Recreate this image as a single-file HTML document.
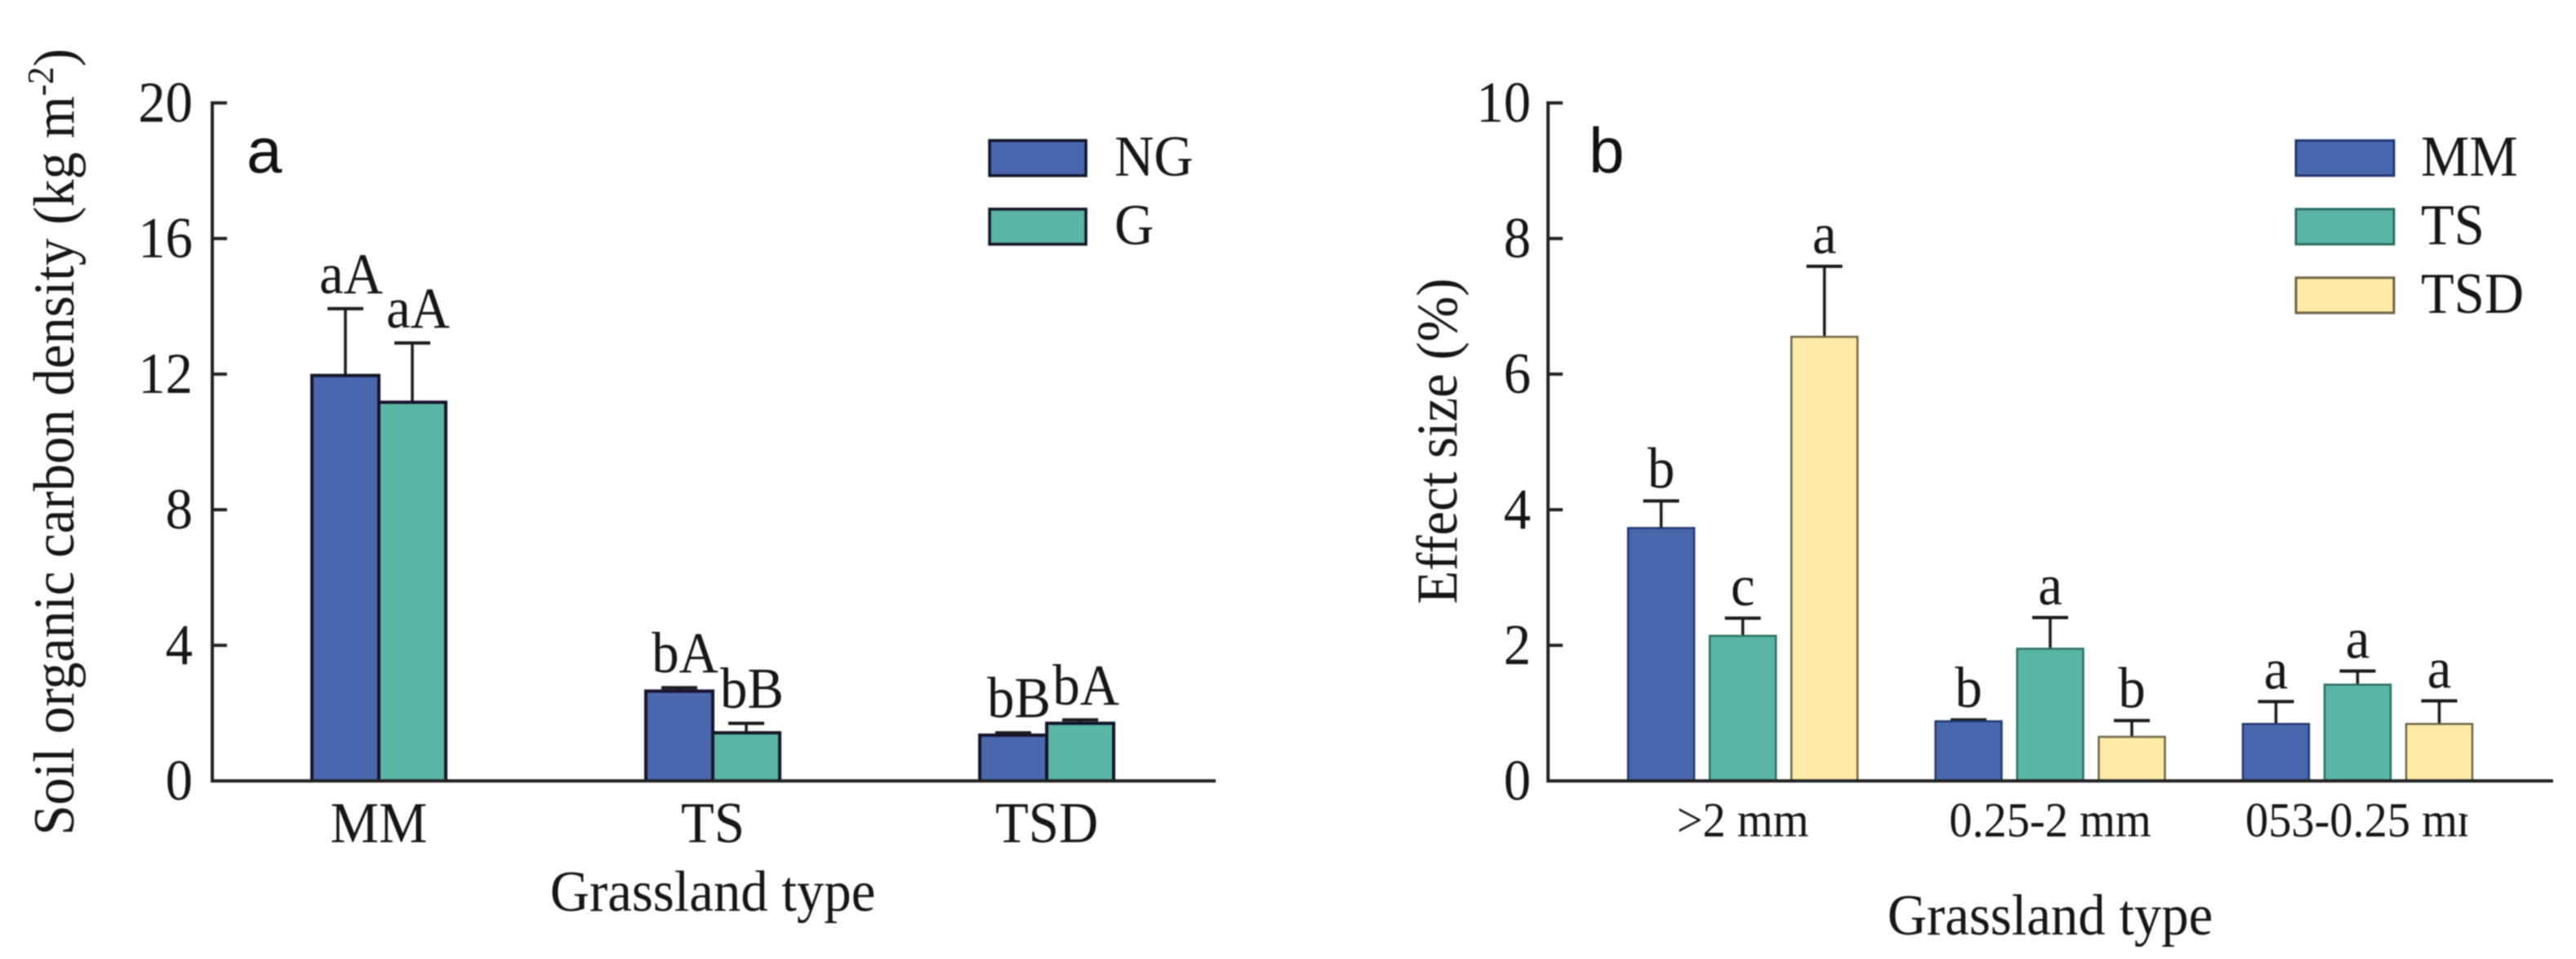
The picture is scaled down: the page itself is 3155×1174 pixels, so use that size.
<!DOCTYPE html>
<html lang="en">
<head>
<meta charset="utf-8">
<title>Soil organic carbon density and effect size by grassland type</title>
<style>
  html, body { margin: 0; padding: 0; background: #fff; }
  #figure { display: block; width: 3155px; height: 1174px; filter: blur(0.9px); }
  text { font-family: "Liberation Serif", serif; fill: #161616; font-size: 71px; }
  .panel-letter { font-family: "Liberation Sans", sans-serif; font-size: 78px; fill: #111; }
  .tick-b { font-size: 60px; }
  .axis { stroke: #222; stroke-width: 4; fill: none; }
</style>
</head>
<body>
<svg id="figure" xmlns="http://www.w3.org/2000/svg" width="3155" height="1174" viewBox="0 0 3155 1174">
  <defs>
    <clipPath id="tick-clip"><rect x="1900" y="960" width="1122" height="100"></rect></clipPath>
  </defs>
  <rect x="0" y="0" width="3155" height="1174" fill="#fff"></rect>

  <g id="panel-a">
    <text transform="translate(90 541) rotate(-90) scale(0.94 1)" text-anchor="middle">Soil organic carbon density (kg m<tspan font-size="46" dy="-25">-2</tspan><tspan dy="25">)</tspan></text>
    <text transform="translate(873 1115) scale(0.94 1)" text-anchor="middle">Grassland type</text>
    <text class="panel-letter" x="302" y="211">a</text>
  </g>

  <g id="panel-b">
    <text transform="translate(1784 540) rotate(-90) scale(0.94 1)" text-anchor="middle">Effect size (%)</text>
    <text transform="translate(2511 1144) scale(0.94 1)" text-anchor="middle">Grassland type</text>
    <text class="panel-letter" x="1946" y="211">b</text>
  </g>
</svg>

<script>
// ---- Panel a data ----
const categoriesA = ['MM', 'TS', 'TSD'];
const seriesNamesA = ['NG', 'G'];
const valuesNG = [11.96, 2.65, 1.35];
const valuesG = [11.17, 1.42, 1.7];
const errorsNG = [1.97, 0.1, 0.07];
const errorsG = [1.75, 0.28, 0.1];
const lettersNG = ['aA', 'bA', 'bB'];
const lettersG = ['aA', 'bB', 'bA'];
const ticksA = [0, 4, 8, 12, 16, 20];

// ---- Panel b data ----
const categoriesB = ['>2 mm', '0.25-2 mm', '053-0.25 mm'];
const seriesNamesB = ['MM', 'TS', 'TSD'];
const valuesMM = [3.73, 0.88, 0.84];
const valuesTS = [2.14, 1.95, 1.42];
const valuesTSD = [6.55, 0.65, 0.84];
const errorsMM = [0.4, 0.02, 0.33];
const errorsTS = [0.26, 0.46, 0.2];
const errorsTSD = [1.04, 0.24, 0.34];
const lettersMM = ['b', 'b', 'a'];
const lettersTS = ['c', 'a', 'a'];
const lettersTSD = ['a', 'b', 'a'];
const ticksB = [0, 2, 4, 6, 8, 10];

const SVGNS = 'http://www.w3.org/2000/svg';
const panelA = document.getElementById('panel-a');
const panelB = document.getElementById('panel-b');

function make(tag, attrs, parent, content) {
  const el = document.createElementNS(SVGNS, tag);
  for (const k in attrs) el.setAttribute(k, attrs[k]);
  if (content !== undefined) el.textContent = content;
  parent.appendChild(el);
  return el;
}

// Text in the reference is slightly condensed horizontally.
function squeezed(x, y) { return 'translate(' + x + ' ' + y + ') scale(0.94 1)'; }

const baseY = 956;
function yA(v) { return baseY - v * 41.5; }
function yB(v) { return baseY - v * 83; }
function groupA(i) { return 464 + i * 409; }
function groupB(i) { return 2134.5 + i * 376.5; }

function drawAxes(parent, x0, x1, scale, ticks, labelRight, suffix) {
  const yAxis = make('line', { x1: x0, x2: x0, y1: scale(ticks[ticks.length - 1]) - 2, y2: baseY + 2, class: 'axis' }, parent);
  
  
  ticks.forEach(function (t) {
    const tick = make('line', { x1: x0, x2: x0 + 18, y1: scale(t), y2: scale(t), class: 'axis' }, parent);
    
    
    const label = make('text', { transform: squeezed(labelRight, scale(t) + 23), 'text-anchor': 'end' }, parent, String(t));
    
    
  });
}

function drawBar(parent, x, w, value, error, scale, fill, stroke, sw, name) {
  const top = scale(value);
  const errTop = scale(value + error);
  const cx = x + w / 2;
  const stem = make('line', { x1: cx, x2: cx, y1: top, y2: errTop, stroke: '#1a1a1a', 'stroke-width': 3.5 }, parent);
  
  
  const cap = make('line', { x1: cx - 22, x2: cx + 22, y1: errTop, y2: errTop, stroke: '#1a1a1a', 'stroke-width': 4 }, parent);
  
  
  const bar = make('rect', { x: x, y: top, width: w, height: baseY - top, fill: fill, stroke: stroke, 'stroke-width': sw }, parent);
  
  
}

function drawLegendEntry(parent, x, y, w, h, fill, stroke, sw, textX, label) {
  const swatch = make('rect', { x: x, y: y, width: w, height: h, fill: fill, stroke: stroke, 'stroke-width': sw }, parent);
  
  
  const text = make('text', { transform: squeezed(textX, y + h) }, parent, label);
  
  
}

// ---- Panel a ----
const BLUE = '#4a66ad', TEAL = '#5bb5a5', YELLOW = '#feeba6';
const seriesA = [
  { name: 'ng', values: valuesNG, errors: errorsNG, letters: lettersNG, fill: BLUE },
  { name: 'g', values: valuesG, errors: errorsG, letters: lettersG, fill: TEAL }
];
drawAxes(panelA, 260, 1489, yA, ticksA, 236, 'a');
seriesA.forEach(function (s, si) {
  categoriesA.forEach(function (c, i) {
    const x = groupA(i) + (si - 1) * 82;
    drawBar(panelA, x, 82, s.values[i], s.errors[i], yA, s.fill, '#14142a', 4, 'a-' + c.toLowerCase() + '-' + s.name);
    const letter = make('text', { transform: squeezed(x + 41 + 7, yA(s.values[i] + s.errors[i]) - 19), 'text-anchor': 'middle' }, panelA, s.letters[i]);
    
    
  });
});
categoriesA.forEach(function (c, i) {
  const label = make('text', { transform: squeezed(groupA(i), 1031), 'text-anchor': 'middle' }, panelA, c);
  
  
});
const xAxisA = make('line', { x1: 258, x2: 1489, y1: baseY, y2: baseY, class: 'axis' }, panelA);


const legendFillsA = [BLUE, TEAL];
seriesNamesA.forEach(function (n, i) {
  drawLegendEntry(panelA, 1212, 172 + i * 84, 118, 43, legendFillsA[i], '#14142a', 3.5, 1365, n);
});

// ---- Panel b ----
const seriesB = [
  { name: 'mm', values: valuesMM, errors: errorsMM, letters: lettersMM, fill: BLUE, stroke: '#23386f' },
  { name: 'ts', values: valuesTS, errors: errorsTS, letters: lettersTS, fill: TEAL, stroke: '#2b6f62' },
  { name: 'tsd', values: valuesTSD, errors: errorsTSD, letters: lettersTSD, fill: YELLOW, stroke: '#6b6346' }
];
drawAxes(panelB, 1896, 3127, yB, ticksB, 1875, 'b');
seriesB.forEach(function (s, si) {
  categoriesB.forEach(function (c, i) {
    const x = groupB(i) + (si - 1) * 100 - 40.5;
    const key = 'b-group' + (i + 1) + '-' + s.name;
    drawBar(panelB, x, 81, s.values[i], s.errors[i], yB, s.fill, s.stroke, 2.5, key);
    const letter = make('text', { transform: squeezed(x + 40.5, yB(s.values[i] + s.errors[i]) - 16), 'text-anchor': 'middle' }, panelB, s.letters[i]);
    
    
  });
});
const tickLabelsB = make('g', { 'clip-path': 'url(#tick-clip)' }, panelB);


categoriesB.forEach(function (c, i) {
  const anchorX = i === 2 ? 2750 : groupB(i);
  const label = make('text', { transform: squeezed(anchorX, 1024), 'text-anchor': i === 2 ? 'start' : 'middle', class: 'tick-b' }, tickLabelsB, c);
  
  
});
const xAxisB = make('line', { x1: 1894, x2: 3127, y1: baseY, y2: baseY, class: 'axis' }, panelB);


seriesB.forEach(function (s, i) {
  drawLegendEntry(panelB, 2812, 172 + i * 84, 120, 43, s.fill, s.stroke, 3, 2965, seriesNamesB[i]);
});
</script>
</body>
</html>
